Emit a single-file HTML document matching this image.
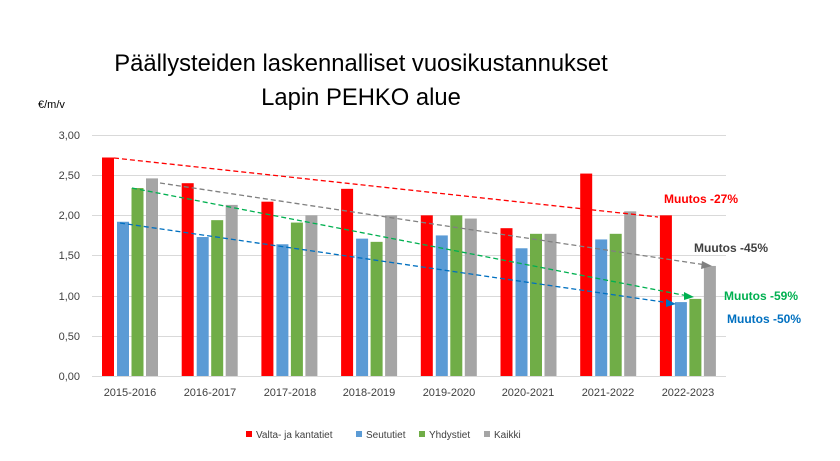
<!DOCTYPE html>
<html><head><meta charset="utf-8"><style>body{margin:0;background:#fff}</style></head><body>
<svg width="840" height="456" xmlns="http://www.w3.org/2000/svg" font-family="Liberation Sans, sans-serif">
<rect width="840" height="456" fill="#fff"/>
<text x="361" y="71" font-size="23.8" text-anchor="middle" fill="#000">Päällysteiden laskennalliset vuosikustannukset</text>
<text x="361" y="105" font-size="23.8" text-anchor="middle" fill="#000">Lapin PEHKO alue</text>
<text x="38" y="108" font-size="11" fill="#000">€/m/v</text>
<g stroke="#d9d9d9" stroke-width="1">
<line x1="92" x2="726" y1="135.5" y2="135.5"/><line x1="92" x2="726" y1="175.5" y2="175.5"/><line x1="92" x2="726" y1="215.5" y2="215.5"/><line x1="92" x2="726" y1="255.5" y2="255.5"/><line x1="92" x2="726" y1="296.5" y2="296.5"/><line x1="92" x2="726" y1="336.5" y2="336.5"/><line x1="92" x2="726" y1="376.5" y2="376.5"/>
</g>
<g font-size="11" fill="#404040" text-anchor="end">
<text x="80" y="139">3,00</text><text x="80" y="179">2,50</text><text x="80" y="219">2,00</text><text x="80" y="259">1,50</text><text x="80" y="300">1,00</text><text x="80" y="340">0,50</text><text x="80" y="380">0,00</text>
</g>
<g id="bars"></g>
<g font-size="11" fill="#404040" text-anchor="middle">
<text x="130" y="396">2015-2016</text><text x="210" y="396">2016-2017</text><text x="290" y="396">2017-2018</text><text x="369" y="396">2018-2019</text><text x="449" y="396">2019-2020</text><text x="528" y="396">2020-2021</text><text x="608" y="396">2021-2022</text><text x="688" y="396">2022-2023</text>
</g>
<g stroke-width="1.3" stroke-dasharray="5,3" fill="none">
<line x1="114" y1="158" x2="658" y2="217" stroke="#f00"/>
<line x1="160" y1="183" x2="706" y2="265" stroke="#808080"/>
<line x1="132" y1="188" x2="688" y2="296" stroke="#00b050"/>
<line x1="120" y1="223" x2="670" y2="303" stroke="#0070c0"/>
</g>
<polygon points="712,266 702,261 701,269" fill="#808080"/>
<polygon points="694,297 684,292 684,300" fill="#00b050"/>
<polygon points="676,304 666,299 666,307" fill="#0070c0"/>
<g font-size="12" font-weight="bold">
<text x="664" y="203" fill="#f00">Muutos -27%</text>
<text x="694" y="252" fill="#404040">Muutos -45%</text>
<text x="724" y="300" fill="#00b050">Muutos -59%</text>
<text x="727" y="323" fill="#0070c0">Muutos -50%</text>
</g>
<g font-size="10" fill="#404040">
<rect x="246" y="431" width="6" height="6" fill="#f00"/><text x="256" y="438">Valta- ja kantatiet</text>
<rect x="356" y="431" width="6" height="6" fill="#5b9bd5"/><text x="366" y="438">Seututiet</text>
<rect x="419" y="431" width="6" height="6" fill="#70ad47"/><text x="429" y="438">Yhdystiet</text>
<rect x="484" y="431" width="6" height="6" fill="#a5a5a5"/><text x="494" y="438">Kaikki</text>
</g>
</svg>
<script>
var d=[[2.72,2.40,2.17,2.33,2.00,1.84,2.52,2.00],[1.92,1.73,1.64,1.71,1.75,1.59,1.70,0.92],[2.34,1.94,1.91,1.67,2.00,1.77,1.77,0.96],[2.46,2.13,2.00,2.00,1.96,1.77,2.05,1.37]];
var c=["#f00","#5b9bd5","#70ad47","#a5a5a5"],off=[0,15,29.5,44],s="";
for(var k=0;k<4;k++)for(var i=0;i<8;i++){var h=d[k][i]*80.33;s+='<rect x="'+(102+79.7*i+off[k])+'" y="'+(376-h)+'" width="12" height="'+h+'" fill="'+c[k]+'"/>';}
document.getElementById("bars").innerHTML=s;
</script>
</body></html>
